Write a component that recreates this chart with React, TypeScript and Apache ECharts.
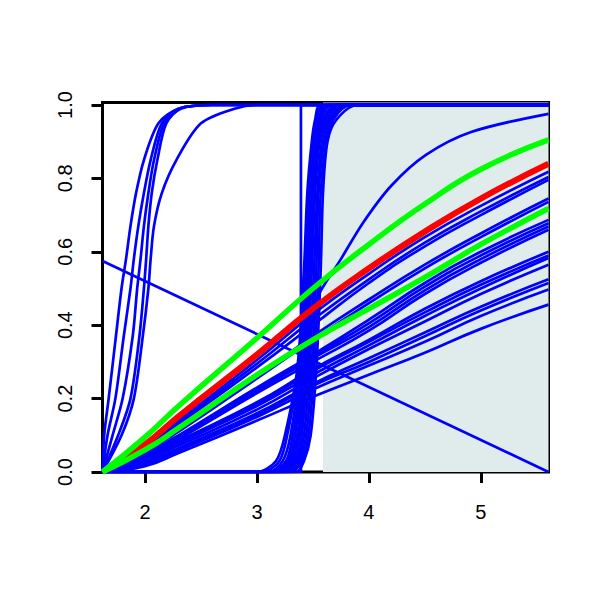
import React, { useEffect, useRef } from "react";
import * as echarts from "echarts";

// ---- axes ----
const xMin = 1.62;
const xMax = 5.605;
const yMax = 1.0068;
const xTickValues = [2, 3, 4, 5];
const yTickValues = [0, 0.2, 0.4, 0.6, 0.8, 1.0];

// ---- shaded band ----
const bandFrom = 3.59;
const bandTo = 5.605;

// ---- fan curves: y values read at these x positions ----
const fanX = [1.62, 2.0, 2.3, 3.0, 3.5, 4.0, 4.5, 5.0, 5.605];
const fanBlue = [
  [0, 0.07, 0.14, 0.305, 0.43, 0.54, 0.64, 0.725, 0.818],
  [0, 0.068, 0.135, 0.295, 0.415, 0.525, 0.625, 0.71, 0.804],
  [0, 0.065, 0.13, 0.285, 0.4, 0.515, 0.615, 0.7, 0.796],
  [0, 0.058, 0.115, 0.26, 0.37, 0.47, 0.565, 0.65, 0.745],
  [0, 0.055, 0.11, 0.255, 0.36, 0.46, 0.555, 0.64, 0.736],
  [0, 0.05, 0.1, 0.23, 0.32, 0.415, 0.515, 0.6, 0.687],
  [0, 0.048, 0.097, 0.225, 0.315, 0.405, 0.505, 0.59, 0.678],
  [0, 0.046, 0.094, 0.22, 0.31, 0.395, 0.495, 0.58, 0.669],
  [0, 0.044, 0.09, 0.215, 0.3, 0.385, 0.485, 0.57, 0.66],
  [0, 0.04, 0.085, 0.19, 0.28, 0.36, 0.445, 0.52, 0.6],
  [0, 0.038, 0.082, 0.185, 0.275, 0.355, 0.435, 0.51, 0.59],
  [0, 0.035, 0.078, 0.18, 0.265, 0.345, 0.425, 0.5, 0.583],
  [0, 0.03, 0.072, 0.17, 0.255, 0.335, 0.41, 0.485, 0.565],
  [0, 0.025, 0.065, 0.16, 0.24, 0.31, 0.38, 0.45, 0.525],
  [0, 0.022, 0.062, 0.155, 0.235, 0.3, 0.37, 0.44, 0.515],
  [0, 0.02, 0.058, 0.15, 0.225, 0.29, 0.355, 0.425, 0.497],
  [0, 0.016, 0.052, 0.14, 0.205, 0.265, 0.325, 0.39, 0.456],
];
const redCurve = [0, 0.075, 0.152, 0.32, 0.445, 0.555, 0.655, 0.745, 0.84];
const greenUpper = [0, 0.095, 0.18, 0.365, 0.5, 0.62, 0.73, 0.825, 0.905];
const greenLower = [0, 0.06, 0.12, 0.265, 0.36, 0.445, 0.53, 0.62, 0.718];

// ---- left steep curves: x positions read at these y levels ----
const leftLevels = [0, 0.1, 0.2, 0.37, 0.5, 0.58, 0.67, 0.76, 0.85, 0.95, 0.99, 1.0];
const leftCurves = [
  [1.62, 1.635, 1.675, 1.74, 1.79, 1.83, 1.87, 1.92, 1.99, 2.12, 2.3, 2.6],
  [1.62, 1.665, 1.735, 1.81, 1.87, 1.9, 1.94, 1.99, 2.05, 2.15, 2.3, 2.6],
  [1.62, 1.71, 1.8, 1.89, 1.93, 1.96, 1.99, 2.03, 2.08, 2.17, 2.3, 2.6],
  [1.62, 1.76, 1.87, 1.95, 1.99, 2.01, 2.03, 2.06, 2.11, 2.19, 2.32, 2.6],
  [1.62, 1.79, 1.9, 1.98, 2.03, 2.05, 2.08, 2.15, 2.28, 2.5, 2.8, 3.0],
];

// ---- middle steep curves: x positions read at these y levels ----
const midLevels = [0, 0.03, 0.1, 0.28, 0.55, 0.76, 0.9, 0.96, 1.0];
const midCurves = [
  [3.0, 3.17, 3.25, 3.36, 3.42, 3.45, 3.49, 3.52, 3.57],
  [3.05, 3.2, 3.27, 3.37, 3.43, 3.46, 3.5, 3.53, 3.6],
  [3.1, 3.23, 3.3, 3.38, 3.44, 3.47, 3.51, 3.55, 3.62],
  [3.12, 3.26, 3.32, 3.4, 3.45, 3.48, 3.52, 3.56, 3.64],
  [3.15, 3.28, 3.34, 3.41, 3.46, 3.49, 3.53, 3.57, 3.67],
  [3.18, 3.3, 3.36, 3.42, 3.47, 3.5, 3.54, 3.59, 3.7],
  [3.2, 3.32, 3.38, 3.44, 3.48, 3.51, 3.55, 3.6, 3.72],
  [3.22, 3.34, 3.4, 3.45, 3.49, 3.52, 3.56, 3.62, 3.74],
  [3.25, 3.36, 3.42, 3.47, 3.51, 3.54, 3.58, 3.64, 3.77],
  [3.28, 3.38, 3.44, 3.49, 3.53, 3.55, 3.6, 3.66, 3.8],
  [3.3, 3.4, 3.46, 3.51, 3.55, 3.57, 3.62, 3.68, 3.84],
  [3.35, 3.42, 3.48, 3.53, 3.57, 3.59, 3.63, 3.71, 3.9],
];

// ---- the slow one leaving the middle cluster ----
const slowX = [1.62, 3.15, 3.32, 3.42, 3.48, 3.53, 3.75, 3.95, 4.2, 4.51, 4.92, 5.605];
const slowY = [0, 0, 0.05, 0.2, 0.38, 0.47, 0.58, 0.68, 0.78, 0.864, 0.927, 0.976];

// ---- vertical step ----
const stepX = [1.62, 3.393, 3.393, 5.605];
const stepY = [0, 0, 1, 1];

// ---- decreasing line ----
const declX = [1.62, 5.605];
const declY = [0.575, 0];

const BLUE = "#0000ff";
const RED = "#ff0000";
const GREEN = "#00ff00";
const FONT = "Liberation Sans";
const BLUE_W = 2.7;

function zip(xs: number[], ys: number[]) {
  return xs.map((x, i) => [x, ys[i]]);
}

function lineSeries(data: number[][], color: string, width: number, z: number, smooth: number | false = 0.4) {
  return {
    type: "line",
    data,
    showSymbol: false,
    symbol: "none",
    silent: true,
    smooth,
    lineStyle: { color, width },
    z,
    clip: true,
  };
}

export default function App() {
  const ref = useRef<HTMLDivElement>(null);
  useEffect(() => {
    const chart = echarts.init(ref.current!, null, { renderer: "svg" });
    const series: any[] = [];
    series.push({
      type: "line",
      data: [],
      silent: true,
      z: 1,
      markArea: {
        silent: true,
        itemStyle: { color: "#e0ecec" },
        data: [[{ xAxis: bandFrom, yAxis: 0 }, { xAxis: bandTo, yAxis: yMax }]],
      },
    });
    leftCurves.forEach((xs) => {
      series.push(lineSeries([...zip(xs, leftLevels), [xMax, 1]], BLUE, BLUE_W, 2, 0.3));
    });
    midCurves.forEach((xs) => {
      series.push(lineSeries([[xMin, 0], ...zip(xs, midLevels), [xMax, 1]], BLUE, BLUE_W, 2, 0.3));
    });
    series.push(lineSeries(zip(slowX, slowY), BLUE, BLUE_W, 2, 0.3));
    series.push(lineSeries(zip(stepX, stepY), BLUE, BLUE_W, 2, false));
    fanBlue.forEach((ys) => series.push(lineSeries(zip(fanX, ys), BLUE, BLUE_W, 2, 0.5)));
    series.push(lineSeries(zip(declX, declY), BLUE, BLUE_W, 2, false));
    series.push(lineSeries(zip(fanX, redCurve), RED, 6, 3, 0.5));
    series.push(lineSeries(zip(fanX, greenUpper), GREEN, 5.5, 4, 0.5));
    series.push(lineSeries(zip(fanX, greenLower), GREEN, 5.5, 4, 0.5));

    chart.setOption({
      animation: false,
      backgroundColor: "#ffffff",
      grid: {
        left: 102.5,
        right: 51.5,
        top: 102.5,
        bottom: 128,
        show: true,
        borderColor: "#000",
        borderWidth: 3,
        backgroundColor: "transparent",
      },
      xAxis: {
        type: "value",
        min: xMin,
        max: xMax,
        axisLine: { show: false },
        splitLine: { show: false },
        axisTick: {
          show: true,
          customValues: xTickValues,
          length: 11,
          lineStyle: { color: "#000", width: 3 },
        },
        axisLabel: {
          show: true,
          customValues: xTickValues,
          margin: 30,
          fontSize: 20,
          fontFamily: FONT,
          color: "#000",
          formatter: (v: number) => String(v),
        },
      },
      yAxis: {
        type: "value",
        min: 0,
        max: yMax,
        axisLine: { show: false },
        splitLine: { show: false },
        axisTick: {
          show: true,
          customValues: yTickValues,
          length: 11,
          lineStyle: { color: "#000", width: 3 },
        },
        axisLabel: {
          show: true,
          customValues: yTickValues,
          rotate: 90,
          margin: 28,
          fontSize: 20,
          fontFamily: FONT,
          color: "#000",
          formatter: (v: number) => v.toFixed(1),
        },
      },
      series,
    });
    return () => chart.dispose();
  }, []);
  return (
    <div
      ref={ref}
      style={{ position: "fixed", left: 0, top: 0, width: 600, height: 600, background: "#fff" }}
    />
  );
}
